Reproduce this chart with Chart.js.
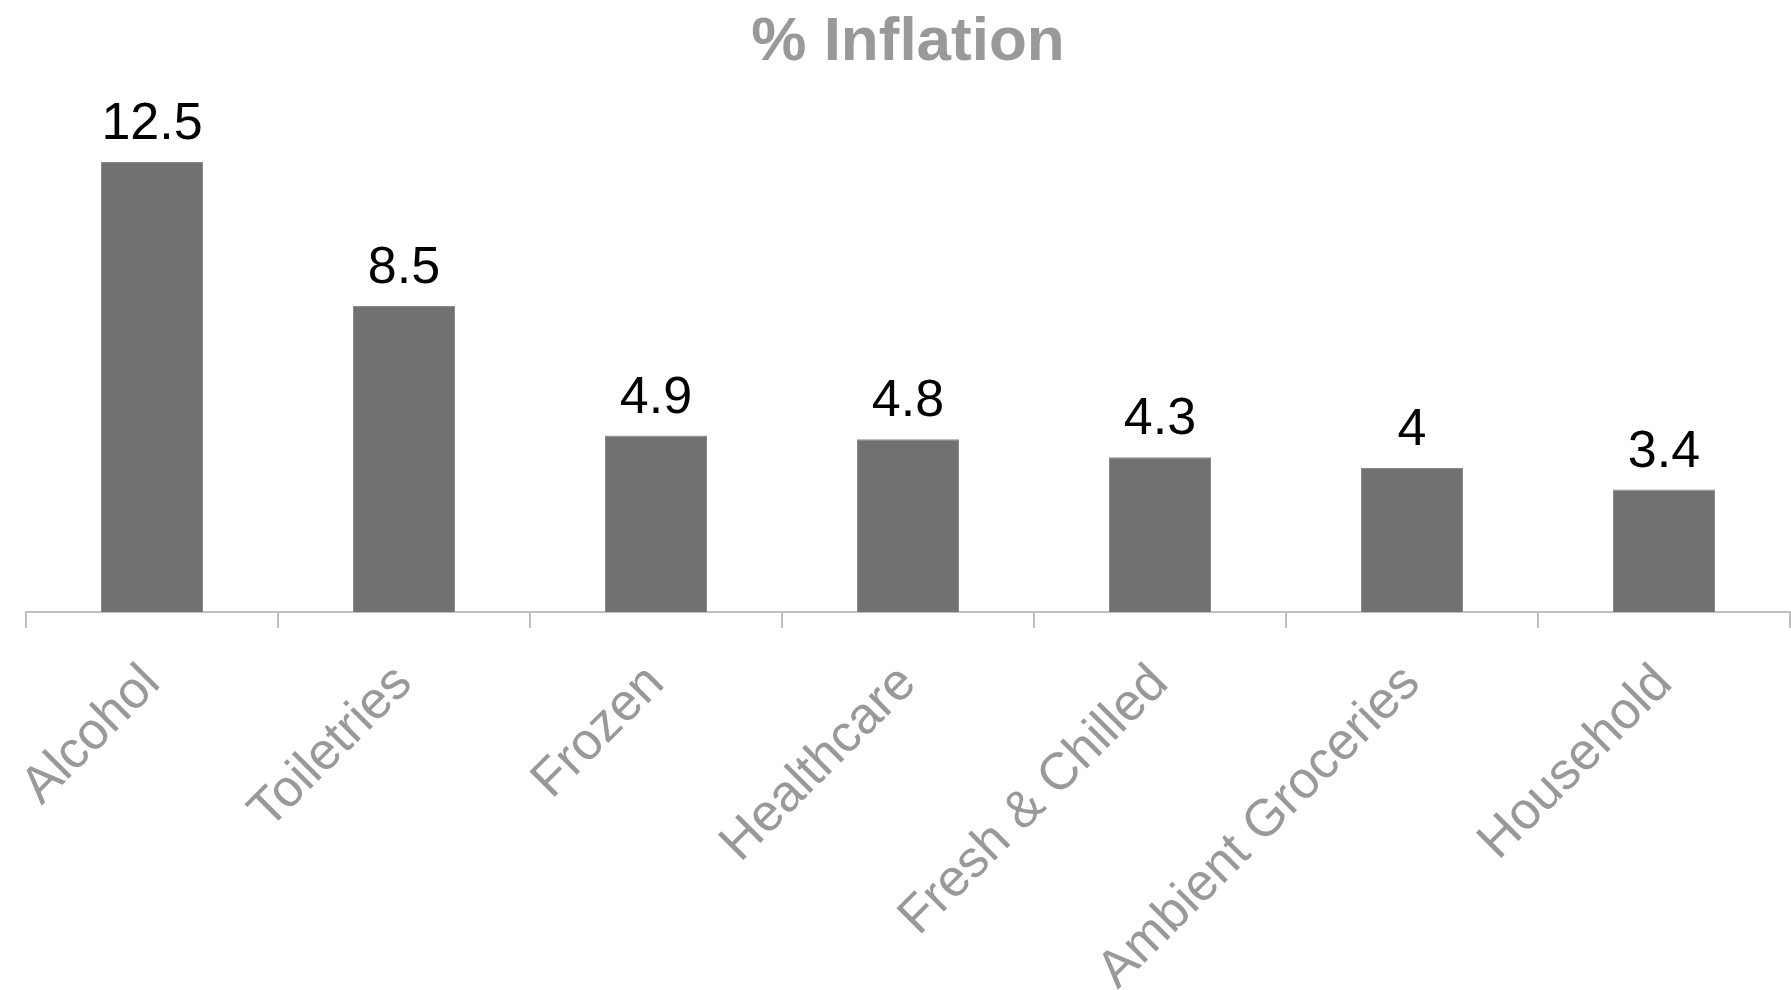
<!DOCTYPE html>
<html>
<head>
<meta charset="utf-8">
<title>% Inflation</title>
<script src="https://cdn.jsdelivr.net/npm/chart.js@4.4.1/dist/chart.umd.min.js"></script>
<style>
  html, body { margin: 0; padding: 0; background: #ffffff; }
  #chart { display: block; }
</style>
</head>
<body>
<canvas id="chart" width="1791" height="990"></canvas>
<script>
// Category inflation figures (%)
const categories = ["Alcohol", "Toiletries", "Frozen", "Healthcare", "Fresh & Chilled", "Ambient Groceries", "Household"];
const inflationValues = [12.5, 8.5, 4.9, 4.8, 4.3, 4, 3.4];
const chartTitle = "% Inflation";

const FONT = "'Liberation Sans', Arial, Helvetica, sans-serif";

// Writes each bar's value just above its top
const valueLabels = {
  id: 'valueLabels',
  afterDatasetsDraw(chart) {
    const ctx = chart.ctx;
    const meta = chart.getDatasetMeta(0);
    ctx.save();
    ctx.font = "52px " + FONT;
    ctx.fillStyle = "#000000";
    ctx.textAlign = "center";
    ctx.textBaseline = "alphabetic";
    meta.data.forEach((bar, i) => {
      ctx.fillText(String(inflationValues[i]), bar.x, bar.y - 23);
    });
    ctx.restore();
  }
};

new Chart(document.getElementById('chart'), {
  type: 'bar',
  data: {
    labels: categories,
    datasets: [{
      data: inflationValues,
      backgroundColor: '#717171',
      borderColor: '#8a8a8a',
      borderWidth: 1,
      categoryPercentage: 0.81,
      barPercentage: 0.5
    }]
  },
  options: {
    responsive: false,
    animation: false,
    devicePixelRatio: 1,
    layout: { padding: { left: 26, right: 1, top: 0, bottom: 0 } },
    plugins: {
      legend: { display: false },
      tooltip: { enabled: false },
      title: {
        display: true,
        text: chartTitle,
        color: '#999999',
        font: { family: FONT, size: 62, weight: 'bold', lineHeight: 1.2 },
        padding: { top: 6, bottom: 27.6 }
      }
    },
    scales: {
      x: {
        afterFit(scale) { scale.height = 378; },
        border: { display: true, color: '#bfbfbf', width: 2 },
        grid: {
          display: true,
          offset: true,
          drawOnChartArea: false,
          drawTicks: true,
          tickLength: 16,
          color: '#bfbfbf',
          lineWidth: 2
        },
        ticks: {
          color: '#999999',
          font: { family: FONT, size: 52 },
          maxRotation: 45,
          minRotation: 45,
          autoSkip: false,
          padding: 25
        }
      },
      y: {
        display: false,
        min: 0,
        max: 14
      }
    }
  },
  plugins: [valueLabels]
});
</script>
</body>
</html>
